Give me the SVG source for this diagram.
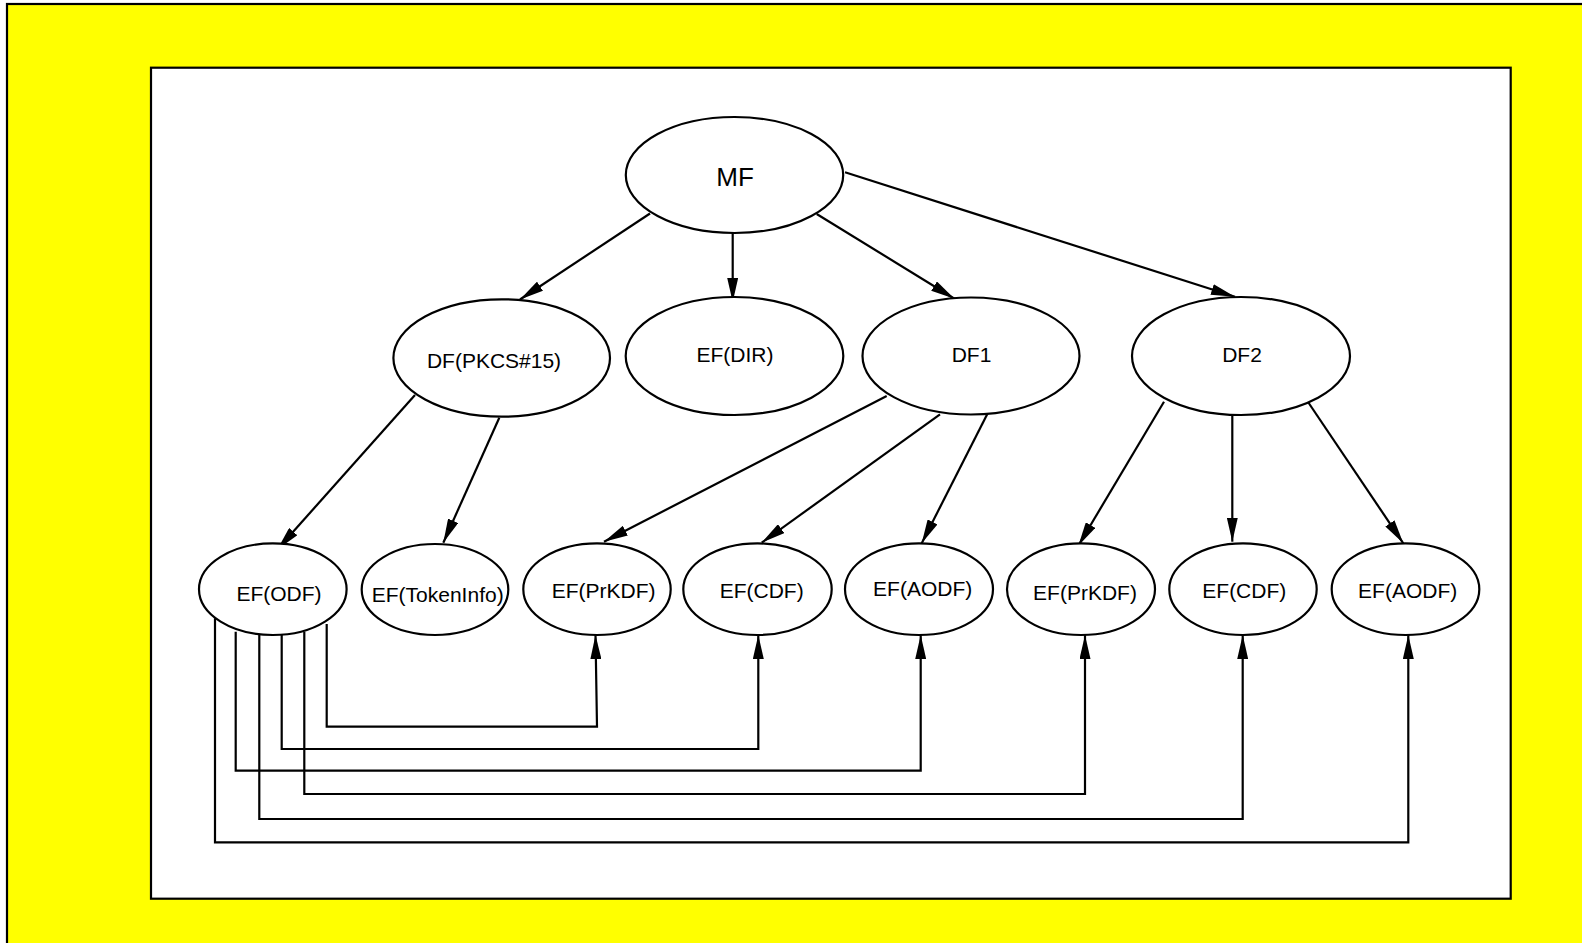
<svg xmlns="http://www.w3.org/2000/svg" width="1582" height="943" viewBox="0 0 1582 943">
<style>
.node ellipse{fill:#fff;stroke:#000;stroke-width:2.2}
.node text{font-family:"Liberation Sans",Arial,sans-serif;font-size:21px;fill:#000;text-anchor:middle}
#conn line,#conn polyline{fill:none;stroke:#000;stroke-width:2.2}
</style>
<defs>
<marker id="arr" markerUnits="userSpaceOnUse" markerWidth="24" markerHeight="11" refX="24" refY="5.5" orient="auto">
<path d="M0,0 L24,5.5 L0,11 z" fill="#000"/>
</marker>
</defs>
<rect x="7" y="4" width="1600" height="1000" fill="#ffff00" stroke="#000" stroke-width="2.2"/>
<rect x="151" y="67.7" width="1359.7" height="831" fill="#fff" stroke="#000" stroke-width="2.2"/>
<g id="conn">
<line x1="650" y1="213.5" x2="520" y2="299.5" marker-end="url(#arr)"/>
<line x1="732.7" y1="233" x2="732.7" y2="302" marker-end="url(#arr)"/>
<line x1="816.7" y1="214" x2="954.5" y2="298.7" marker-end="url(#arr)"/>
<line x1="845" y1="172.3" x2="1235" y2="296.7" marker-end="url(#arr)"/>
<line x1="415" y1="395" x2="277.3" y2="549.5" marker-end="url(#arr)"/>
<line x1="499.3" y1="417.7" x2="443.3" y2="542.7" marker-end="url(#arr)"/>
<line x1="886.7" y1="396" x2="604" y2="541.7" marker-end="url(#arr)"/>
<line x1="940" y1="414.3" x2="761.7" y2="542.7" marker-end="url(#arr)"/>
<line x1="987.7" y1="413.3" x2="921.7" y2="543.3" marker-end="url(#arr)"/>
<line x1="1164" y1="401.7" x2="1078.3" y2="545.7" marker-end="url(#arr)"/>
<line x1="1232.3" y1="415" x2="1232.3" y2="541.7" marker-end="url(#arr)"/>
<line x1="1306" y1="399" x2="1403.3" y2="543.3" marker-end="url(#arr)"/>
<polyline points="326.7,624 326.7,726.7 597,726.7 595.5,635" marker-end="url(#arr)"/>
<polyline points="281.7,635 281.7,749 758.3,749 758.3,635" marker-end="url(#arr)"/>
<polyline points="235.7,631.7 235.7,770.7 920.7,770.7 920.7,635" marker-end="url(#arr)"/>
<polyline points="304.3,631.7 304.3,794 1085,794 1085,635" marker-end="url(#arr)"/>
<polyline points="259.3,635 259.3,819 1242.7,819 1242.7,635" marker-end="url(#arr)"/>
<polyline points="215,618.3 215,842.3 1408.3,842.3 1408.3,635" marker-end="url(#arr)"/>
</g>
<g id="n-mf" class="node"><ellipse cx="734.5" cy="175" rx="108.7" ry="58"/><text x="735" y="186" style="font-size:26px">MF</text></g>
<g id="n-dfpkcs" class="node"><ellipse cx="501.7" cy="358" rx="108.3" ry="58.7"/><text x="494" y="368.3">DF(PKCS#15)</text></g>
<g id="n-efdir" class="node"><ellipse cx="734.5" cy="356" rx="108.8" ry="59"/><text x="735" y="362.3">EF(DIR)</text></g>
<g id="n-df1" class="node"><ellipse cx="971" cy="356" rx="108.5" ry="58.5"/><text x="971.5" y="362.3">DF1</text></g>
<g id="n-df2" class="node"><ellipse cx="1241" cy="356" rx="109" ry="59"/><text x="1242" y="362.3">DF2</text></g>
<g id="n-odf" class="node"><ellipse cx="272.8" cy="589.2" rx="73.8" ry="45.8"/><text x="279" y="600.7">EF(ODF)</text></g>
<g id="n-tokeninfo" class="node"><ellipse cx="435" cy="589.5" rx="73.3" ry="45.5"/><text x="437.7" y="601.7">EF(TokenInfo)</text></g>
<g id="n-prkdf1" class="node"><ellipse cx="597" cy="589.2" rx="73.7" ry="45.8"/><text x="603.7" y="598.3">EF(PrKDF)</text></g>
<g id="n-cdf1" class="node"><ellipse cx="757.5" cy="589.2" rx="74.2" ry="45.8"/><text x="761.7" y="598.3">EF(CDF)</text></g>
<g id="n-aodf1" class="node"><ellipse cx="919" cy="589.2" rx="74" ry="45.8"/><text x="922.7" y="595.7">EF(AODF)</text></g>
<g id="n-prkdf2" class="node"><ellipse cx="1081" cy="589.2" rx="74" ry="45.8"/><text x="1085" y="600">EF(PrKDF)</text></g>
<g id="n-cdf2" class="node"><ellipse cx="1243" cy="589.2" rx="73.7" ry="45.8"/><text x="1244.3" y="598.3">EF(CDF)</text></g>
<g id="n-aodf2" class="node"><ellipse cx="1405.5" cy="589.2" rx="73.8" ry="45.8"/><text x="1407.7" y="598.3">EF(AODF)</text></g>
</svg>
